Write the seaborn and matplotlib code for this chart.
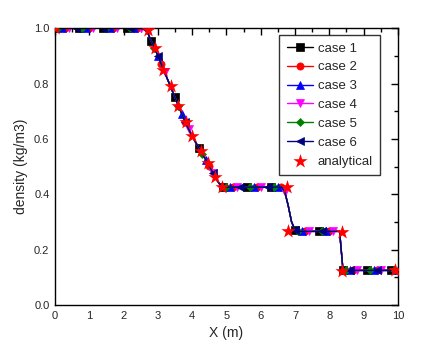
import numpy as np
import pandas as pd
import matplotlib
matplotlib.use("Agg")
import matplotlib.pyplot as plt
from matplotlib.ticker import MultipleLocator
import seaborn as sns

# simulated density profile on a 0.1 m grid
x_sim = [round(0.1 * i, 1) for i in range(101)]
rho_sim = ([1.0] * 26 +
           [0.995, 0.985, 0.955, 0.93, 0.9, 0.87, 0.84, 0.81, 0.78, 0.75,
            0.72, 0.69, 0.66, 0.635, 0.61, 0.588, 0.567, 0.546, 0.525, 0.503,
            0.478, 0.455, 0.437, 0.427] +
           [0.426] * 17 +
           [0.41, 0.36, 0.3, 0.272] +
           [0.266] * 13 +
           [0.125] * 17)

# analytical solution points (stars)
x_ana = [0.0, 2.7, 2.92, 3.15, 3.38, 3.58, 3.81, 3.99, 4.25, 4.45, 4.66, 4.86,
         6.78, 6.8, 8.38, 8.38, 9.93]
rho_ana = [1.0, 0.995, 0.93, 0.85, 0.79, 0.72, 0.66, 0.61, 0.557, 0.514, 0.463,
           0.427, 0.427, 0.267, 0.265, 0.123, 0.126]

cases = ['case 1', 'case 2', 'case 3', 'case 4', 'case 5', 'case 6']
colors = ['black', 'red', 'blue', 'magenta', 'green', 'navy']
markers = ['s', 'o', '^', 'v', 'D', '<']
mark_every = [(0, 7), (3, 7), (2, 7), (4, 7), (1, 7), (6, 8)]

sns.set_style("white")
plt.rcParams['font.family'] = ['Liberation Sans', 'DejaVu Sans']

fig = plt.figure(figsize=(4.26, 3.52), dpi=100)
ax = fig.add_axes([0.129, 0.1335, 0.805, 0.7865])

df = pd.DataFrame({'x': x_sim, 'rho': rho_sim})
for name, c, m, me in zip(cases, colors, markers, mark_every):
    ms = 4.5 if m == 'D' else 5.2
    sns.lineplot(data=df, x='x', y='rho', color=c, marker=m, markevery=me,
                 markersize=ms, markeredgecolor=c, markeredgewidth=0.5,
                 linewidth=1, label=name, ax=ax, sort=False)

sns.scatterplot(x=x_ana, y=rho_ana, color='red', marker='*', s=115, linewidth=0,
                label='analytical', ax=ax, zorder=5)

ax.set_xlim(0, 10)
ax.set_ylim(0, 1.0)
ax.xaxis.set_major_locator(MultipleLocator(1))
ax.xaxis.set_minor_locator(MultipleLocator(0.5))
ax.yaxis.set_major_locator(MultipleLocator(0.2))
ax.yaxis.set_minor_locator(MultipleLocator(0.1))
ax.yaxis.set_major_formatter(matplotlib.ticker.FormatStrFormatter('%.1f'))
ax.tick_params(which='both', direction='in', top=True, right=True,
               labelsize=8, width=1, color='black')
ax.tick_params(which='major', length=5, pad=4)
ax.tick_params(which='minor', length=3)
for s in ax.spines.values():
    s.set_color('black')
    s.set_linewidth(1)

ax.set_xlabel('X (m)', fontsize=10)
ax.set_ylabel('density (kg/m3)', fontsize=10)

leg = ax.legend(loc='upper right', bbox_to_anchor=(0.948, 0.975), fontsize=9.5,
                frameon=True, fancybox=False, handlelength=2.0, labelspacing=0.5,
                borderpad=0.55, handletextpad=0.35, borderaxespad=0)
leg.get_frame().set_edgecolor('black')
leg.get_frame().set_linewidth(1)

fig.savefig('out.png', dpi=100)
